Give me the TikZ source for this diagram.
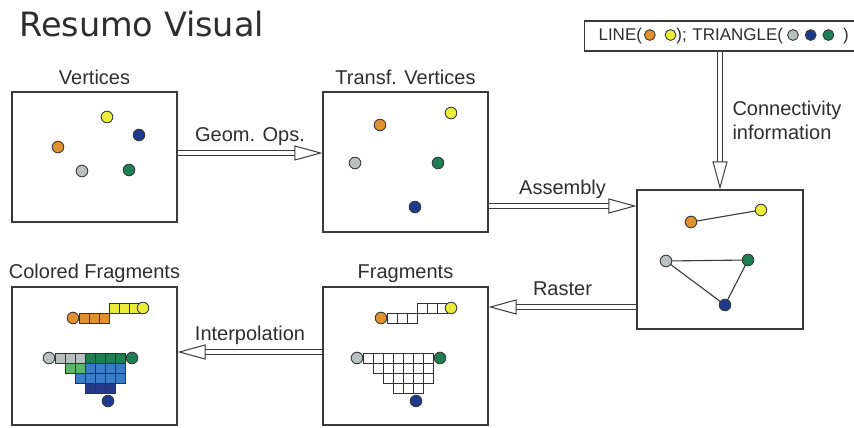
\documentclass[tikz,border=0pt]{standalone}
\usepackage{fontspec}
\setmainfont{Liberation Sans}
\newfontfamily\titlefont{DejaVu Sans}
\usetikzlibrary{arrows.meta, positioning, calc}
\definecolor{colLine}{HTML}{3A3A3A}
\definecolor{colText}{HTML}{2E2E2E}
\definecolor{colOrange}{HTML}{E0902C}
\definecolor{colYellow}{HTML}{ECEC3C}
\definecolor{colBlue}{HTML}{1F3A8C}
\definecolor{colGreen}{HTML}{1E8052}
\definecolor{colGray}{HTML}{B8C0C0}
\definecolor{colLightGreen}{HTML}{5CB868}
\definecolor{colMidBlue}{HTML}{3A7CC6}
\definecolor{colDarkBlue}{HTML}{24388A}

\tikzset{
  panel/.style={draw=colLine, line width=1.1pt, fill=white},
  lbl/.style={text=colText, inner sep=0pt},
  vdot/.style={draw=colLine, line width=0.9pt},
  cell/.style={draw=black!80, line width=0.7pt},
  flow/.style={draw=colLine, line width=1pt, double=white, double distance=4.5pt,
    -{Triangle[open, length=28pt, width=15pt, line width=1pt]}},
}
\newcommand{\vdot}[1]{\tikz[baseline=-0.6ex]\draw[vdot, fill=#1] (0,0) circle (5.4pt);}

\begin{document}
\begin{tikzpicture}[x=1pt, y=-1pt, font=\fontsize{20}{24}\selectfont]
  \useasboundingbox (0,0) rectangle (854,428);
  \clip (0,0) rectangle (854,428);

  % Title
  \node[lbl, anchor=base west, font=\titlefont\fontsize{33.5}{38}\selectfont] (title) at (19,37) {Resumo Visual};

  % Panels
  \node[panel, minimum width=165, minimum height=130] (vert) at (94.5,157) {};
  \node[panel, minimum width=165, minimum height=140] (transf) at (405.5,162) {};
  \node[panel, minimum width=166, minimum height=139] (asm) at (720,259.5) {};
  \node[panel, minimum width=165, minimum height=138] (frag) at (405.5,356) {};
  \node[panel, minimum width=165, minimum height=138] (colfrag) at (94.5,356) {};

  % Panel titles
  \node[lbl, anchor=base] (vertT) at ([yshift=7]vert.north) {Vertices};
  \node[lbl, anchor=base] (transfT) at ([yshift=7]transf.north) {Transf. Vertices};
  \node[lbl, anchor=base] (fragT) at ([yshift=8]frag.north) {Fragments};
  \node[lbl, anchor=base] (colfragT) at ([yshift=8]colfrag.north) {Colored Fragments};

  % Connectivity list (runs off the right edge)
  \node[draw=colLine, line width=1.1pt, fill=white, anchor=west, minimum height=30,
        text width=262, inner xsep=14, align=left, text=colText,
        font=\fontsize{17}{20}\selectfont] (conn) at (584,36)
    {LINE(\hspace{2pt}\vdot{colOrange}\hspace{9pt}\vdot{colYellow}); TRIANGLE(\hspace{4pt}\vdot{colGray}\hspace{6pt}\vdot{colBlue}\hspace{6pt}\vdot{colGreen}\hspace{9pt})};

  % Arrows between the panels
  \coordinate (g1) at ([yshift=4]vert.east);
  \coordinate (a1) at ([yshift=-44]transf.east);
  \coordinate (r1) at ([yshift=-47.5]asm.west);
  \coordinate (i1) at ([yshift=4]frag.west);
  \draw[flow] (g1) -- node[lbl, midway, anchor=base, yshift=12] {Geom. Ops.} (g1 -| transf.west);
  \draw[flow] (a1) -- node[lbl, midway, anchor=base, yshift=12] {Assembly} (a1 -| asm.west);
  \draw[flow] (r1) -- node[lbl, midway, anchor=base, yshift=12] {Raster} (r1 -| frag.east);
  \draw[flow] (i1) -- node[lbl, midway, anchor=base, yshift=12] {Interpolation} (i1 -| colfrag.east);
  \draw[flow] (asm.north |- conn.south) -- node[lbl, midway, anchor=west, xshift=12, align=left] {Connectivity\\information} (asm.north);

  % Vertices
  \foreach \p/\c in {{(107,117)}/colYellow, {(139,135)}/colBlue, {(58,147)}/colOrange,
                     {(82,171)}/colGray, {(129,170)}/colGreen}
    \draw[vdot, fill=\c] \p circle (5.8);

  % Transformed vertices
  \foreach \p/\c in {{(380,125)}/colOrange, {(451,113)}/colYellow, {(355,163)}/colGray,
                     {(438,163)}/colGreen, {(415,207)}/colBlue}
    \draw[vdot, fill=\c] \p circle (5.8);

  % Assembled primitives
  \draw[colLine, line width=1.1pt] (691,222) -- (761,210);
  \draw[colLine, line width=1.1pt] (666,261) -- (748,260) -- (725,305) -- cycle;
  \foreach \p/\c in {{(691,222)}/colOrange, {(761,210)}/colYellow, {(666,261)}/colGray,
                     {(748,260)}/colGreen, {(725,305)}/colBlue}
    \draw[vdot, fill=\c] \p circle (5.8);

  % Fragments (white) and colored fragments (shifted 308 to the left)
  \def\cs{10}
  \def\shift{308}
  \foreach \ry/\rx/\cols in {313/387/{colOrange,colOrange,colOrange},
                             303/417/{colYellow,colYellow,colYellow},
                             353/363/{colGray,colGray,colGray,colGreen,colGreen,colGreen,colGreen},
                             363/373/{colLightGreen,colLightGreen,colMidBlue,colMidBlue,colMidBlue,colMidBlue},
                             373/383/{colMidBlue,colMidBlue,colMidBlue,colMidBlue,colMidBlue},
                             383/393/{colDarkBlue,colDarkBlue,colDarkBlue}} {
    \foreach \c [count=\k from 0] in \cols {
      \draw[cell, fill=white] ({\rx+\k*\cs},\ry) rectangle ++(\cs,\cs);
      \draw[cell, fill=\c] ({\rx+\k*\cs-\shift},\ry) rectangle ++(\cs,\cs);
    }
  }
  \foreach \x/\y/\c in {381/318/colOrange, 451/308/colYellow, 357/358/colGray,
                        440/358/colGreen, 416/401/colBlue} {
    \draw[vdot, fill=\c] (\x,\y) circle (5.8);
    \draw[vdot, fill=\c] ({\x-\shift},\y) circle (5.8);
  }
\end{tikzpicture}
\end{document}
